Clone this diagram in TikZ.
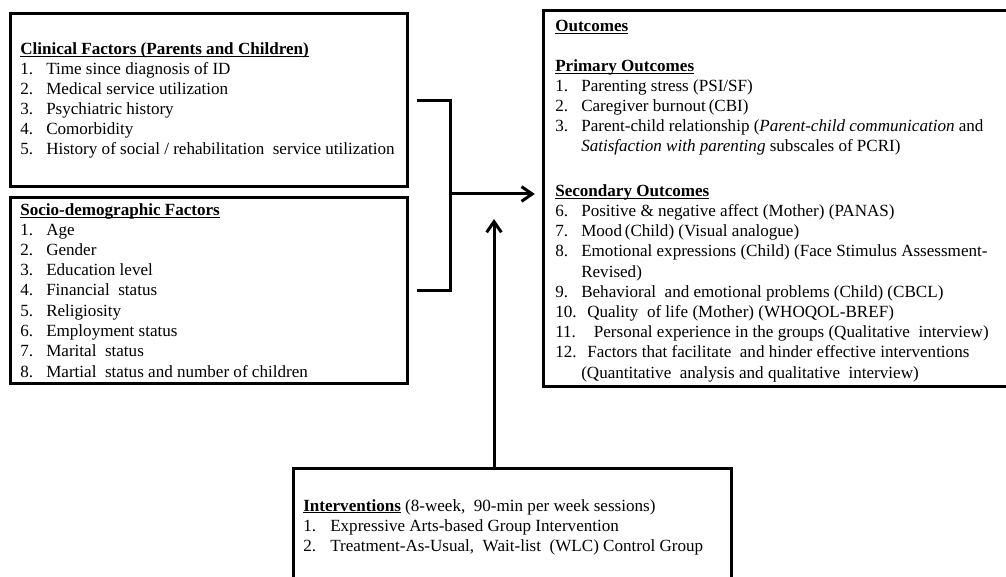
\documentclass[tikz,border=0pt]{standalone}
\usepackage{fontspec}
\setmainfont{Liberation Serif}
\usetikzlibrary{arrows.meta,fit}
\newcommand\ulx[1]{\setbox0\hbox{#1}\rlap{\rule[-1.7pt]{\wd0}{0.75pt}}\box0}
\newcommand\itm[2]{\makebox[19.5pt][l]{#1}#2}
\newcommand\itmw[3]{\makebox[#1][l]{#2}#3}
\tikzset{
  box/.style={draw, line width=2.25pt, inner sep=0pt},
  txt/.style={anchor=base west, inner sep=0pt, font=\fontsize{12.8}{15}\selectfont},
  conn/.style={line width=2.25pt},
  arr/.style={line width=2.25pt, -{Straight Barb[length=8pt,width=11pt]}}
}
\begin{document}
\begin{tikzpicture}[x=0.75pt,y=-0.75pt]
\useasboundingbox (0,0) rectangle (1006,577);
% boxes
\node[box, fit={(10,14) (407,187)}] (clin) {};
\node[box, fit={(10,198) (407,383)}] (soc) {};
\node[box, fit={(543,11) (1020,386)}] (outc) {};
\node[box, fit={(293,468) (731,590)}] (intv) {};
% clinical
\node[txt] (c0) at (20,55) {\textbf{\ulx{Clinical Factors (Parents and Children)}}};
\node[txt] (c1) at (20,75) {\itm{1.}{Time since diagnosis of ID}};
\node[txt] (c2) at (20,95) {\itm{2.}{Medical service utilization}};
\node[txt] (c3) at (20,115) {\itm{3.}{Psychiatric history}};
\node[txt] (c4) at (20,135) {\itm{4.}{Comorbidity}};
\node[txt] (c5) at (20,155) {\itm{5.}{History of social / rehabilitation\ \ service utilization}};
% socio
\node[txt] (s0) at (20,216) {\textbf{\ulx{Socio-demographic\ Factors}}};
\node[txt] (s1) at (20,236) {\itm{1.}{Age}};
\node[txt] (s2) at (20,256) {\itm{2.}{Gender}};
\node[txt] (s3) at (20,276) {\itm{3.}{Education level}};
\node[txt] (s4) at (20,296) {\itm{4.}{Financial\ \ status}};
\node[txt] (s5) at (20,316) {\itm{5.}{Religiosity}};
\node[txt] (s6) at (20,336) {\itm{6.}{Employment status}};
\node[txt] (s7) at (20,356) {\itm{7.}{Marital\ \ status}};
\node[txt] (s8) at (20,377) {\itm{8.}{Martial\ \ status and number of children}};
% outcomes
\node[txt] (o0) at (555,32) {\textbf{\ulx{Outcomes}}};
\node[txt] (p0) at (555,72) {\textbf{\ulx{Primary Outcomes}}};
\node[txt] (p1) at (555,92) {\itm{1.}{Parenting stress (PSI/SF)}};
\node[txt] (p2) at (555,112) {\itm{2.}{Caregiver burnout\,(CBI)}};
\node[txt] (p3) at (555,132) {\itm{3.}{Parent-child relationship (\textit{Parent-child communication} and}};
\node[txt] (p3b) at (555,152) {\itm{}{\textit{Satisfaction with parenting} subscales of PCRI)}};
\node[txt] (q0) at (555,197) {\textbf{\ulx{Secondary Outcomes}}};
\node[txt] (q6) at (555,217) {\itm{6.}{Positive \& negative affect (Mother) (PANAS)}};
\node[txt] (q7) at (555,237) {\itm{7.}{Mood\,(Child) (Visual analogue)}};
\node[txt] (q8) at (555,257) {\itm{8.}{Emotional expressions (Child) (Face Stimulus Assessment-}};
\node[txt] (q8b) at (555,277) {\itm{}{Revised)}};
\node[txt] (q9) at (555,297) {\itm{9.}{Behavioral\ \ and emotional problems (Child) (CBCL)}};
\node[txt] (q10) at (555,317) {\itmw{24pt}{10.}{Quality\ \ of life (Mother) (WHOQOL-BREF)}};
\node[txt] (q11) at (555,337) {\itmw{29pt}{11.}{Personal experience in the groups (Qualitative\ \ interview)}};
\node[txt] (q12) at (555,357) {\itmw{24pt}{12.}{Factors that facilitate\ \ and hinder effective interventions}};
\node[txt] (q12b) at (555,378) {\itm{}{(Quantitative\ \ analysis and qualitative\ \ interview)}};
% interventions
\node[txt] (i0) at (303,511) {\textbf{\ulx{Interventions}} (8-week,\ \ 90-min per week sessions)};
\node[txt] (i1) at (303,531) {\itmw{20.25pt}{1.}{Expressive Arts-based Group Intervention}};
\node[txt] (i2) at (303,551) {\itmw{20.25pt}{2.}{Treatment-As-Usual,\ \ Wait-list\ \ (WLC) Control Group}};
% connectors
\coordinate (j) at (450,194);
\coordinate (va) at (494,219);
\draw[conn] ([xshift=6pt]clin.east) -| (j) |- ([xshift=6pt]soc.east);
\draw[arr, shorten >=5pt] (j) -- (outc.west |- j);
\draw[arr] (va |- intv.north) -- (va);
\end{tikzpicture}
\end{document}
